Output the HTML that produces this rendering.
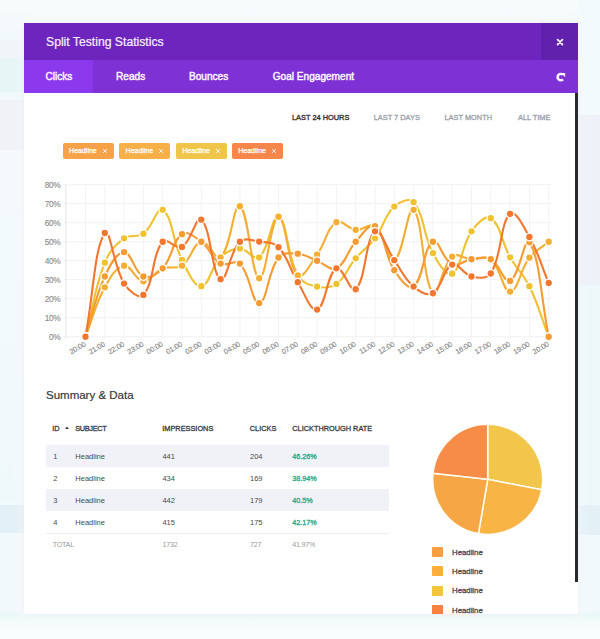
<!DOCTYPE html>
<html>
<head>
<meta charset="utf-8">
<style>
*{margin:0;padding:0;box-sizing:border-box;}
html,body{width:600px;height:639px;overflow:hidden;}
body{position:relative;background:#f4fafb;font-family:"Liberation Sans",sans-serif;}
.bg{position:absolute;}
.modal{position:absolute;left:24px;top:23px;width:554px;height:591px;background:#fff;overflow:hidden;box-shadow:0 0 8px rgba(120,160,180,0.12);}
.hdr{position:absolute;left:0;top:0;width:554px;height:37px;background:#6d25bd;}
.hdr .title{position:absolute;left:22px;top:11.8px;font-size:12.2px;line-height:14px;color:#f8efff;white-space:nowrap;-webkit-text-stroke:0.2px #f8efff;}
.hdr .close{position:absolute;left:517px;top:0;width:37px;height:37px;background:#6121ad;}
.tabs{position:absolute;left:0;top:37px;width:554px;height:32.5px;background:#7e31d4;}
.tab{position:absolute;top:0;height:32.5px;font-weight:normal;font-size:10.1px;line-height:34px;color:#fbf4ff;white-space:nowrap;-webkit-text-stroke:0.45px #fbf4ff;}
.tab.active{background:#8c39ee;}
.scroll{position:absolute;left:550.7px;top:69.5px;width:3.3px;height:489.5px;background:#262a2d;}
.filt{position:absolute;top:90.4px;font-weight:normal;font-size:7.4px;line-height:10px;color:#9aa0a6;white-space:nowrap;-webkit-text-stroke:0.3px #9aa0a6;}
.filt.on{color:#333;-webkit-text-stroke:0.35px #333;}
.tag{position:absolute;top:120px;height:16px;width:51px;border-radius:2px;color:#fff;font-weight:normal;font-size:7px;line-height:16.8px;white-space:nowrap;-webkit-text-stroke:0.25px #fff;}
.tag span{position:absolute;left:6.6px;top:0;}
.tag i{position:absolute;left:40px;top:0;font-style:normal;font-weight:normal;font-size:8.4px;}
svg text.yl{font-size:8.3px;letter-spacing:-0.25px;fill:#8a8a8a;stroke:#8a8a8a;stroke-width:0.12px;font-family:"Liberation Sans",sans-serif;}
svg text.xl{font-size:7.3px;letter-spacing:-0.15px;fill:#8a8a8a;stroke:#8a8a8a;stroke-width:0.15px;font-family:"Liberation Sans",sans-serif;}
.sum{position:absolute;left:22px;top:365px;font-size:11.5px;line-height:14px;color:#3a3a3a;white-space:nowrap;-webkit-text-stroke:0.2px #3a3a3a;}
.th{position:absolute;top:400.8px;font-weight:normal;font-size:7.35px;line-height:10px;color:#3a3a3a;white-space:nowrap;-webkit-text-stroke:0.3px #3a3a3a;}
.row{position:absolute;left:22px;width:343px;height:22px;}
.row.alt{background:#f0f2f7;}
.td{position:absolute;font-size:7.5px;line-height:11px;color:#4a4a4a;white-space:nowrap;}
.pct{font-weight:normal;color:#2eae8c;font-size:7.2px;-webkit-text-stroke:0.35px #2eae8c;}
.tot{color:#9a9a9a;font-size:7.1px;letter-spacing:-0.2px;}
.leg{position:absolute;left:408px;width:11px;height:10px;border-radius:1px;}
.legt{position:absolute;left:428px;font-weight:normal;font-size:7.8px;line-height:12.4px;color:#4a4a4a;white-space:nowrap;-webkit-text-stroke:0.3px #4a4a4a;}
</style>
</head>
<body>
<!-- blurred background page -->
<div class="bg" style="left:0;top:0;width:600px;height:639px;background:#f2f9fa;"></div>
<div class="bg" style="left:0;top:0;width:600px;height:40px;background:linear-gradient(180deg,#f7fbfc,#f2f9fb);"></div>
<div class="bg" style="left:0;top:40px;width:24px;height:18px;background:#f0f5f7;"></div>
<div class="bg" style="left:0;top:58px;width:24px;height:34px;background:#e7f5f5;"></div>
<div class="bg" style="left:0;top:100px;width:24px;height:50px;background:#f0f2f7;"></div>
<div class="bg" style="left:0;top:150px;width:24px;height:350px;background:linear-gradient(180deg,#f4fafb,#f0f9fa);"></div>
<div class="bg" style="left:0;top:505px;width:24px;height:28px;background:#e2f0f7;"></div>
<div class="bg" style="left:578px;top:0;width:22px;height:115px;background:#f3fafb;"></div>
<div class="bg" style="left:578px;top:115px;width:22px;height:170px;background:#eef1f7;"></div>
<div class="bg" style="left:578px;top:285px;width:22px;height:220px;background:#eef8fa;"></div>
<div class="bg" style="left:578px;top:505px;width:22px;height:30px;background:#e3f1f7;"></div>
<div class="bg" style="left:0;top:613px;width:600px;height:26px;background:linear-gradient(180deg,#e8f6f7 0%,#f4fbfb 35%,#fafdfd 100%);"></div>
<div class="bg" style="left:19px;top:18px;width:564px;height:600px;background:rgba(255,255,255,0.45);filter:blur(3px);"></div>

<div class="modal">
  <div class="hdr">
    <div class="title">Split Testing Statistics</div>
    <div class="close">
      <svg width="37" height="37" viewBox="0 0 37 37" style="position:absolute;left:0;top:0">
        <path d="M16.6 16.7 L21.4 21.5 M21.4 16.7 L16.6 21.5" stroke="#fbf2ff" stroke-width="1.8" stroke-linecap="round"/>
      </svg>
    </div>
  </div>
  <div class="tabs">
    <div class="tab active" style="left:0;width:69px;padding-left:21.5px;">Clicks</div>
    <div class="tab" style="left:92px;">Reads</div>
    <div class="tab" style="left:165px;">Bounces</div>
    <div class="tab" style="left:248.7px;">Goal Engagement</div>
    <svg width="14" height="14" viewBox="0 0 14 14" style="position:absolute;left:529.5px;top:9.5px">
      <path d="M8.9 4.8 A3.15 3.15 0 1 0 9.0 9.3" fill="none" stroke="#fbf4ff" stroke-width="2.5"/>
      <path d="M7.0 3.0 L11.2 3.0 L11.2 7.2 Z" fill="#fbf4ff"/>
    </svg>
  </div>
  <div class="scroll"></div>

  <div class="filt on" style="left:268px;">LAST 24 HOURS</div>
  <div class="filt" style="left:349.7px;">LAST 7 DAYS</div>
  <div class="filt" style="left:420.5px;">LAST MONTH</div>
  <div class="filt" style="left:494px;">ALL TIME</div>

  <div class="tag" style="left:38.5px;background:#f7a247;"><span>Headline</span><svg width="6" height="6" viewBox="0 0 6 6" style="position:absolute;left:39px;top:4.7px"><path d="M1 1 L5 5 M5 1 L1 5" stroke="#fff" stroke-width="0.9" opacity="0.9"/></svg></div>
  <div class="tag" style="left:95px;background:#f7b048;"><span>Headline</span><svg width="6" height="6" viewBox="0 0 6 6" style="position:absolute;left:39px;top:4.7px"><path d="M1 1 L5 5 M5 1 L1 5" stroke="#fff" stroke-width="0.9" opacity="0.9"/></svg></div>
  <div class="tag" style="left:151.7px;background:#efc54a;"><span>Headline</span><svg width="6" height="6" viewBox="0 0 6 6" style="position:absolute;left:39px;top:4.7px"><path d="M1 1 L5 5 M5 1 L1 5" stroke="#fff" stroke-width="0.9" opacity="0.9"/></svg></div>
  <div class="tag" style="left:207.7px;background:#f6864a;"><span>Headline</span><svg width="6" height="6" viewBox="0 0 6 6" style="position:absolute;left:39px;top:4.7px"><path d="M1 1 L5 5 M5 1 L1 5" stroke="#fff" stroke-width="0.9" opacity="0.9"/></svg></div>

  <div class="sum">Summary &amp; Data</div>
  <div class="th" style="left:28.3px;">ID</div>
  <svg width="6" height="6" viewBox="0 0 6 6" style="position:absolute;left:40px;top:401.6px"><path d="M1.2 4.1 L3 1.6 L4.8 4.1 Z" fill="#333"/></svg>
  <div class="th" style="left:51.3px;letter-spacing:-0.35px;">SUBJECT</div>
  <div class="th" style="left:138.3px;">IMPRESSIONS</div>
  <div class="th" style="left:225.8px;">CLICKS</div>
  <div class="th" style="left:268.3px;">CLICKTHROUGH RATE</div>

  <div class="row alt" style="top:421.8px;"></div>
  <div class="row alt" style="top:465.8px;"></div>
  <div style="position:absolute;left:22px;top:509.8px;width:343px;height:1px;background:#eceef2;"></div>

  <div class="td" style="left:29.2px;top:428px;">1</div>
  <div class="td" style="left:51.3px;top:428px;">Headline</div>
  <div class="td" style="left:138.4px;top:428px;">441</div>
  <div class="td" style="left:226px;top:428px;">204</div>
  <div class="td pct" style="left:268.3px;top:428px;">46.26%</div>

  <div class="td" style="left:29.2px;top:450px;">2</div>
  <div class="td" style="left:51.3px;top:450px;">Headline</div>
  <div class="td" style="left:138.4px;top:450px;">434</div>
  <div class="td" style="left:226px;top:450px;">169</div>
  <div class="td pct" style="left:268.3px;top:450px;">38.94%</div>

  <div class="td" style="left:29.2px;top:472px;">3</div>
  <div class="td" style="left:51.3px;top:472px;">Headline</div>
  <div class="td" style="left:138.4px;top:472px;">442</div>
  <div class="td" style="left:226px;top:472px;">179</div>
  <div class="td pct" style="left:268.3px;top:472px;">40.5%</div>

  <div class="td" style="left:29.2px;top:494px;">4</div>
  <div class="td" style="left:51.3px;top:494px;">Headline</div>
  <div class="td" style="left:138.4px;top:494px;">415</div>
  <div class="td" style="left:226px;top:494px;">175</div>
  <div class="td pct" style="left:268.3px;top:494px;">42.17%</div>

  <div class="td tot" style="left:28.7px;top:517px;">TOTAL</div>
  <div class="td tot" style="left:138.4px;top:517px;">1732</div>
  <div class="td tot" style="left:226px;top:517px;">727</div>
  <div class="td tot" style="left:268.3px;top:517px;">41.97%</div>

  <div class="leg" style="top:524.2px;background:#f89e3e;"></div><div class="legt" style="top:524px;">Headline</div>
  <div class="leg" style="top:543.2px;background:#f9ae3d;"></div><div class="legt" style="top:543px;">Headline</div>
  <div class="leg" style="top:562.5px;background:#f3c53c;"></div><div class="legt" style="top:562.3px;">Headline</div>
  <div class="leg" style="top:582px;background:#f7823f;"></div><div class="legt" style="top:581.6px;">Headline</div>
</div>

<svg width="600" height="639" viewBox="0 0 600 639" style="position:absolute;left:0;top:0;">
<line x1="63.8" y1="336.75" x2="551.5" y2="336.75" stroke="#f1f1f1" stroke-width="1"/>
<line x1="63.8" y1="317.75" x2="551.5" y2="317.75" stroke="#f1f1f1" stroke-width="1"/>
<line x1="63.8" y1="298.75" x2="551.5" y2="298.75" stroke="#f1f1f1" stroke-width="1"/>
<line x1="63.8" y1="279.75" x2="551.5" y2="279.75" stroke="#f1f1f1" stroke-width="1"/>
<line x1="63.8" y1="260.75" x2="551.5" y2="260.75" stroke="#f1f1f1" stroke-width="1"/>
<line x1="63.8" y1="241.75" x2="551.5" y2="241.75" stroke="#f1f1f1" stroke-width="1"/>
<line x1="63.8" y1="222.75" x2="551.5" y2="222.75" stroke="#f1f1f1" stroke-width="1"/>
<line x1="63.8" y1="203.75" x2="551.5" y2="203.75" stroke="#f1f1f1" stroke-width="1"/>
<line x1="63.8" y1="184.75" x2="551.5" y2="184.75" stroke="#f1f1f1" stroke-width="1"/>
<line x1="65.80" y1="184.75" x2="65.80" y2="338.75" stroke="#e6e6e6" stroke-width="1"/>
<line x1="85.50" y1="184.75" x2="85.50" y2="338.75" stroke="#f3f3f3" stroke-width="1"/>
<line x1="104.80" y1="184.75" x2="104.80" y2="338.75" stroke="#f3f3f3" stroke-width="1"/>
<line x1="124.10" y1="184.75" x2="124.10" y2="338.75" stroke="#f3f3f3" stroke-width="1"/>
<line x1="143.40" y1="184.75" x2="143.40" y2="338.75" stroke="#f3f3f3" stroke-width="1"/>
<line x1="162.70" y1="184.75" x2="162.70" y2="338.75" stroke="#f3f3f3" stroke-width="1"/>
<line x1="182.00" y1="184.75" x2="182.00" y2="338.75" stroke="#f3f3f3" stroke-width="1"/>
<line x1="201.30" y1="184.75" x2="201.30" y2="338.75" stroke="#f3f3f3" stroke-width="1"/>
<line x1="220.60" y1="184.75" x2="220.60" y2="338.75" stroke="#f3f3f3" stroke-width="1"/>
<line x1="239.90" y1="184.75" x2="239.90" y2="338.75" stroke="#f3f3f3" stroke-width="1"/>
<line x1="259.20" y1="184.75" x2="259.20" y2="338.75" stroke="#f3f3f3" stroke-width="1"/>
<line x1="278.50" y1="184.75" x2="278.50" y2="338.75" stroke="#f3f3f3" stroke-width="1"/>
<line x1="297.80" y1="184.75" x2="297.80" y2="338.75" stroke="#f3f3f3" stroke-width="1"/>
<line x1="317.10" y1="184.75" x2="317.10" y2="338.75" stroke="#f3f3f3" stroke-width="1"/>
<line x1="336.40" y1="184.75" x2="336.40" y2="338.75" stroke="#f3f3f3" stroke-width="1"/>
<line x1="355.70" y1="184.75" x2="355.70" y2="338.75" stroke="#f3f3f3" stroke-width="1"/>
<line x1="375.00" y1="184.75" x2="375.00" y2="338.75" stroke="#f3f3f3" stroke-width="1"/>
<line x1="394.30" y1="184.75" x2="394.30" y2="338.75" stroke="#f3f3f3" stroke-width="1"/>
<line x1="413.60" y1="184.75" x2="413.60" y2="338.75" stroke="#f3f3f3" stroke-width="1"/>
<line x1="432.90" y1="184.75" x2="432.90" y2="338.75" stroke="#f3f3f3" stroke-width="1"/>
<line x1="452.20" y1="184.75" x2="452.20" y2="338.75" stroke="#f3f3f3" stroke-width="1"/>
<line x1="471.50" y1="184.75" x2="471.50" y2="338.75" stroke="#f3f3f3" stroke-width="1"/>
<line x1="490.80" y1="184.75" x2="490.80" y2="338.75" stroke="#f3f3f3" stroke-width="1"/>
<line x1="510.10" y1="184.75" x2="510.10" y2="338.75" stroke="#f3f3f3" stroke-width="1"/>
<line x1="529.40" y1="184.75" x2="529.40" y2="338.75" stroke="#f3f3f3" stroke-width="1"/>
<line x1="548.70" y1="184.75" x2="548.70" y2="338.75" stroke="#f3f3f3" stroke-width="1"/>
<text x="60.5" y="339.65" text-anchor="end" class="yl">0%</text>
<text x="60.5" y="320.65" text-anchor="end" class="yl">10%</text>
<text x="60.5" y="301.65" text-anchor="end" class="yl">20%</text>
<text x="60.5" y="282.65" text-anchor="end" class="yl">30%</text>
<text x="60.5" y="263.65" text-anchor="end" class="yl">40%</text>
<text x="60.5" y="244.65" text-anchor="end" class="yl">50%</text>
<text x="60.5" y="225.65" text-anchor="end" class="yl">60%</text>
<text x="60.5" y="206.65" text-anchor="end" class="yl">70%</text>
<text x="60.5" y="187.65" text-anchor="end" class="yl">80%</text>
<text transform="translate(86.30 345.7) rotate(-30)" text-anchor="end" class="xl">20:00</text>
<text transform="translate(105.60 345.7) rotate(-30)" text-anchor="end" class="xl">21:00</text>
<text transform="translate(124.90 345.7) rotate(-30)" text-anchor="end" class="xl">22:00</text>
<text transform="translate(144.20 345.7) rotate(-30)" text-anchor="end" class="xl">23:00</text>
<text transform="translate(163.50 345.7) rotate(-30)" text-anchor="end" class="xl">00:00</text>
<text transform="translate(182.80 345.7) rotate(-30)" text-anchor="end" class="xl">01:00</text>
<text transform="translate(202.10 345.7) rotate(-30)" text-anchor="end" class="xl">02:00</text>
<text transform="translate(221.40 345.7) rotate(-30)" text-anchor="end" class="xl">03:00</text>
<text transform="translate(240.70 345.7) rotate(-30)" text-anchor="end" class="xl">04:00</text>
<text transform="translate(260.00 345.7) rotate(-30)" text-anchor="end" class="xl">05:00</text>
<text transform="translate(279.30 345.7) rotate(-30)" text-anchor="end" class="xl">06:00</text>
<text transform="translate(298.60 345.7) rotate(-30)" text-anchor="end" class="xl">07:00</text>
<text transform="translate(317.90 345.7) rotate(-30)" text-anchor="end" class="xl">08:00</text>
<text transform="translate(337.20 345.7) rotate(-30)" text-anchor="end" class="xl">09:00</text>
<text transform="translate(356.50 345.7) rotate(-30)" text-anchor="end" class="xl">10:00</text>
<text transform="translate(375.80 345.7) rotate(-30)" text-anchor="end" class="xl">11:00</text>
<text transform="translate(395.10 345.7) rotate(-30)" text-anchor="end" class="xl">12:00</text>
<text transform="translate(414.40 345.7) rotate(-30)" text-anchor="end" class="xl">13:00</text>
<text transform="translate(433.70 345.7) rotate(-30)" text-anchor="end" class="xl">14:00</text>
<text transform="translate(453.00 345.7) rotate(-30)" text-anchor="end" class="xl">15:00</text>
<text transform="translate(472.30 345.7) rotate(-30)" text-anchor="end" class="xl">16:00</text>
<text transform="translate(491.60 345.7) rotate(-30)" text-anchor="end" class="xl">17:00</text>
<text transform="translate(510.90 345.7) rotate(-30)" text-anchor="end" class="xl">18:00</text>
<text transform="translate(530.20 345.7) rotate(-30)" text-anchor="end" class="xl">19:00</text>
<text transform="translate(549.50 345.7) rotate(-30)" text-anchor="end" class="xl">20:00</text>
<path d="M85.50 336.75 C93.22 307.11 93.81 290.66 104.80 262.65 C109.25 251.29 114.68 245.38 124.10 238.33 C130.12 233.83 137.35 238.24 143.40 233.77 C152.79 226.84 157.08 206.01 162.70 209.83 C172.52 216.50 172.38 240.96 182.00 259.99 C187.82 271.52 193.83 286.72 201.30 286.21 C209.27 285.66 211.01 266.68 220.60 257.33 C226.45 251.63 232.19 248.55 239.90 248.59 C247.63 248.63 254.26 261.61 259.20 257.52 C269.70 248.84 271.98 213.65 278.50 216.67 C287.42 220.80 286.46 254.83 297.80 275.38 C301.90 282.80 308.86 284.76 317.10 286.59 C324.30 288.18 330.57 288.21 336.40 283.93 C346.01 276.88 347.42 268.06 355.70 258.28 C362.86 249.82 368.40 247.17 375.00 238.33 C383.84 226.50 384.23 216.02 394.30 206.60 C399.67 201.58 409.48 197.27 413.60 202.23 C424.92 215.89 422.72 234.32 432.90 253.15 C438.16 262.89 446.38 276.96 452.20 273.67 C461.82 268.22 461.21 246.08 471.50 231.30 C476.65 223.89 485.42 214.56 490.80 218.19 C500.86 224.97 501.50 242.18 510.10 257.33 C516.94 269.39 523.36 273.79 529.40 286.21 C538.80 305.56 540.98 316.53 548.70 336.75" fill="none" stroke="#f0c131" stroke-width="2.1"/>
<path d="M85.50 336.75 C93.22 316.99 94.82 305.72 104.80 287.35 C110.26 277.30 115.78 267.00 124.10 265.69 C131.22 264.57 135.43 280.72 143.40 281.27 C150.87 281.78 154.30 271.74 162.70 268.35 C169.74 265.51 176.01 269.82 182.00 265.69 C191.45 259.18 192.75 243.60 201.30 241.75 C208.19 240.26 215.78 261.77 220.60 257.33 C231.22 247.56 233.37 202.68 239.90 206.22 C248.81 211.04 250.92 275.99 259.20 278.23 C266.36 280.17 270.61 217.25 278.50 216.67 C286.05 216.11 287.21 264.96 297.80 275.38 C302.65 280.16 310.49 263.78 317.10 254.67 C325.93 242.50 326.43 228.61 336.40 222.18 C341.87 218.65 347.77 228.96 355.70 229.78 C363.21 230.56 369.84 222.11 375.00 226.17 C385.28 234.27 387.81 262.93 394.30 260.18 C403.25 256.39 407.63 204.72 413.60 209.83 C423.07 217.94 422.50 280.64 432.90 293.24 C437.94 299.34 441.70 265.82 452.20 256.57 C457.14 252.22 463.74 258.70 471.50 259.23 C479.18 259.76 485.57 254.85 490.80 259.23 C501.01 267.77 502.51 291.83 510.10 291.53 C517.95 291.22 520.00 269.83 529.40 257.71 C535.44 249.92 540.98 248.13 548.70 241.75" fill="none" stroke="#f5ae33" stroke-width="2.1"/>
<path d="M85.50 336.75 C93.22 312.66 94.44 299.20 104.80 276.52 C109.88 265.38 116.38 252.20 124.10 252.20 C131.82 252.20 134.18 272.66 143.40 276.52 C149.62 279.12 157.33 274.25 162.70 268.35 C172.77 257.30 171.90 241.11 182.00 234.15 C187.34 230.47 194.88 236.85 201.30 241.75 C210.32 248.63 211.31 258.34 220.60 263.60 C226.75 267.08 235.19 258.78 239.90 263.60 C250.63 274.59 251.94 304.26 259.20 303.12 C267.38 301.83 267.45 271.66 278.50 257.52 C282.89 251.90 290.25 253.09 297.80 253.72 C305.69 254.38 309.42 257.84 317.10 260.75 C324.86 263.69 330.43 271.29 336.40 268.35 C345.87 263.69 346.90 251.37 355.70 241.75 C362.34 234.49 369.75 222.29 375.00 226.17 C385.19 233.69 384.18 254.41 394.30 270.25 C399.62 278.58 408.33 290.48 413.60 286.59 C423.77 279.08 423.32 247.22 432.90 241.75 C438.76 238.40 442.96 260.36 452.20 264.55 C458.40 267.36 463.64 260.31 471.50 259.23 C479.08 258.19 484.63 255.77 490.80 259.23 C500.07 264.43 503.89 283.61 510.10 280.89 C519.33 276.85 524.63 235.41 529.40 242.32 C540.07 257.76 540.98 298.98 548.70 336.75" fill="none" stroke="#f49b32" stroke-width="2.1"/>
<path d="M85.50 336.75 C93.22 295.25 94.59 247.08 104.80 233.01 C110.03 225.80 113.18 266.03 124.10 283.55 C128.62 290.81 139.02 299.69 143.40 294.95 C154.46 282.97 151.29 255.96 162.70 241.75 C166.73 236.73 176.21 250.18 182.00 246.88 C191.65 241.37 195.93 215.22 201.30 219.71 C211.37 228.14 211.37 273.91 220.60 279.18 C226.81 282.73 229.31 252.07 239.90 241.75 C244.75 237.02 251.64 240.48 259.20 241.56 C267.08 242.69 273.33 241.81 278.50 247.26 C288.77 258.07 289.40 268.66 297.80 282.22 C304.84 293.59 310.56 311.93 317.10 309.58 C326.00 306.38 326.90 273.35 336.40 268.35 C342.34 265.22 350.79 293.96 355.70 289.25 C366.23 279.14 365.16 238.71 375.00 231.30 C380.60 227.08 386.35 248.79 394.30 260.18 C401.79 270.91 404.09 278.45 413.60 286.59 C419.53 291.67 427.17 296.51 432.90 293.24 C442.61 287.70 442.88 268.59 452.20 264.55 C458.32 261.90 463.20 274.60 471.50 276.52 C478.64 278.17 487.13 279.44 490.80 273.48 C502.57 254.36 499.67 223.67 510.10 213.82 C515.11 209.08 523.58 226.57 529.40 237.00 C539.02 254.24 540.98 264.59 548.70 282.98" fill="none" stroke="#f2762e" stroke-width="2.1"/>
<circle cx="85.50" cy="336.75" r="3.8" fill="#f0c131" stroke="#fff" stroke-width="1.3"/>
<circle cx="104.80" cy="262.65" r="3.8" fill="#f0c131" stroke="#fff" stroke-width="1.3"/>
<circle cx="124.10" cy="238.33" r="3.8" fill="#f0c131" stroke="#fff" stroke-width="1.3"/>
<circle cx="143.40" cy="233.77" r="3.8" fill="#f0c131" stroke="#fff" stroke-width="1.3"/>
<circle cx="162.70" cy="209.83" r="3.8" fill="#f0c131" stroke="#fff" stroke-width="1.3"/>
<circle cx="182.00" cy="259.99" r="3.8" fill="#f0c131" stroke="#fff" stroke-width="1.3"/>
<circle cx="201.30" cy="286.21" r="3.8" fill="#f0c131" stroke="#fff" stroke-width="1.3"/>
<circle cx="220.60" cy="257.33" r="3.8" fill="#f0c131" stroke="#fff" stroke-width="1.3"/>
<circle cx="239.90" cy="248.59" r="3.8" fill="#f0c131" stroke="#fff" stroke-width="1.3"/>
<circle cx="259.20" cy="257.52" r="3.8" fill="#f0c131" stroke="#fff" stroke-width="1.3"/>
<circle cx="278.50" cy="216.67" r="3.8" fill="#f0c131" stroke="#fff" stroke-width="1.3"/>
<circle cx="297.80" cy="275.38" r="3.8" fill="#f0c131" stroke="#fff" stroke-width="1.3"/>
<circle cx="317.10" cy="286.59" r="3.8" fill="#f0c131" stroke="#fff" stroke-width="1.3"/>
<circle cx="336.40" cy="283.93" r="3.8" fill="#f0c131" stroke="#fff" stroke-width="1.3"/>
<circle cx="355.70" cy="258.28" r="3.8" fill="#f0c131" stroke="#fff" stroke-width="1.3"/>
<circle cx="375.00" cy="238.33" r="3.8" fill="#f0c131" stroke="#fff" stroke-width="1.3"/>
<circle cx="394.30" cy="206.60" r="3.8" fill="#f0c131" stroke="#fff" stroke-width="1.3"/>
<circle cx="413.60" cy="202.23" r="3.8" fill="#f0c131" stroke="#fff" stroke-width="1.3"/>
<circle cx="432.90" cy="253.15" r="3.8" fill="#f0c131" stroke="#fff" stroke-width="1.3"/>
<circle cx="452.20" cy="273.67" r="3.8" fill="#f0c131" stroke="#fff" stroke-width="1.3"/>
<circle cx="471.50" cy="231.30" r="3.8" fill="#f0c131" stroke="#fff" stroke-width="1.3"/>
<circle cx="490.80" cy="218.19" r="3.8" fill="#f0c131" stroke="#fff" stroke-width="1.3"/>
<circle cx="510.10" cy="257.33" r="3.8" fill="#f0c131" stroke="#fff" stroke-width="1.3"/>
<circle cx="529.40" cy="286.21" r="3.8" fill="#f0c131" stroke="#fff" stroke-width="1.3"/>
<circle cx="548.70" cy="336.75" r="3.8" fill="#f0c131" stroke="#fff" stroke-width="1.3"/>
<circle cx="85.50" cy="336.75" r="3.8" fill="#f5ae33" stroke="#fff" stroke-width="1.3"/>
<circle cx="104.80" cy="287.35" r="3.8" fill="#f5ae33" stroke="#fff" stroke-width="1.3"/>
<circle cx="124.10" cy="265.69" r="3.8" fill="#f5ae33" stroke="#fff" stroke-width="1.3"/>
<circle cx="143.40" cy="281.27" r="3.8" fill="#f5ae33" stroke="#fff" stroke-width="1.3"/>
<circle cx="162.70" cy="268.35" r="3.8" fill="#f5ae33" stroke="#fff" stroke-width="1.3"/>
<circle cx="182.00" cy="265.69" r="3.8" fill="#f5ae33" stroke="#fff" stroke-width="1.3"/>
<circle cx="201.30" cy="241.75" r="3.8" fill="#f5ae33" stroke="#fff" stroke-width="1.3"/>
<circle cx="220.60" cy="257.33" r="3.8" fill="#f5ae33" stroke="#fff" stroke-width="1.3"/>
<circle cx="239.90" cy="206.22" r="3.8" fill="#f5ae33" stroke="#fff" stroke-width="1.3"/>
<circle cx="259.20" cy="278.23" r="3.8" fill="#f5ae33" stroke="#fff" stroke-width="1.3"/>
<circle cx="278.50" cy="216.67" r="3.8" fill="#f5ae33" stroke="#fff" stroke-width="1.3"/>
<circle cx="297.80" cy="275.38" r="3.8" fill="#f5ae33" stroke="#fff" stroke-width="1.3"/>
<circle cx="317.10" cy="254.67" r="3.8" fill="#f5ae33" stroke="#fff" stroke-width="1.3"/>
<circle cx="336.40" cy="222.18" r="3.8" fill="#f5ae33" stroke="#fff" stroke-width="1.3"/>
<circle cx="355.70" cy="229.78" r="3.8" fill="#f5ae33" stroke="#fff" stroke-width="1.3"/>
<circle cx="375.00" cy="226.17" r="3.8" fill="#f5ae33" stroke="#fff" stroke-width="1.3"/>
<circle cx="394.30" cy="260.18" r="3.8" fill="#f5ae33" stroke="#fff" stroke-width="1.3"/>
<circle cx="413.60" cy="209.83" r="3.8" fill="#f5ae33" stroke="#fff" stroke-width="1.3"/>
<circle cx="432.90" cy="293.24" r="3.8" fill="#f5ae33" stroke="#fff" stroke-width="1.3"/>
<circle cx="452.20" cy="256.57" r="3.8" fill="#f5ae33" stroke="#fff" stroke-width="1.3"/>
<circle cx="471.50" cy="259.23" r="3.8" fill="#f5ae33" stroke="#fff" stroke-width="1.3"/>
<circle cx="490.80" cy="259.23" r="3.8" fill="#f5ae33" stroke="#fff" stroke-width="1.3"/>
<circle cx="510.10" cy="291.53" r="3.8" fill="#f5ae33" stroke="#fff" stroke-width="1.3"/>
<circle cx="529.40" cy="257.71" r="3.8" fill="#f5ae33" stroke="#fff" stroke-width="1.3"/>
<circle cx="548.70" cy="241.75" r="3.8" fill="#f5ae33" stroke="#fff" stroke-width="1.3"/>
<circle cx="85.50" cy="336.75" r="3.8" fill="#f49b32" stroke="#fff" stroke-width="1.3"/>
<circle cx="104.80" cy="276.52" r="3.8" fill="#f49b32" stroke="#fff" stroke-width="1.3"/>
<circle cx="124.10" cy="252.20" r="3.8" fill="#f49b32" stroke="#fff" stroke-width="1.3"/>
<circle cx="143.40" cy="276.52" r="3.8" fill="#f49b32" stroke="#fff" stroke-width="1.3"/>
<circle cx="162.70" cy="268.35" r="3.8" fill="#f49b32" stroke="#fff" stroke-width="1.3"/>
<circle cx="182.00" cy="234.15" r="3.8" fill="#f49b32" stroke="#fff" stroke-width="1.3"/>
<circle cx="201.30" cy="241.75" r="3.8" fill="#f49b32" stroke="#fff" stroke-width="1.3"/>
<circle cx="220.60" cy="263.60" r="3.8" fill="#f49b32" stroke="#fff" stroke-width="1.3"/>
<circle cx="239.90" cy="263.60" r="3.8" fill="#f49b32" stroke="#fff" stroke-width="1.3"/>
<circle cx="259.20" cy="303.12" r="3.8" fill="#f49b32" stroke="#fff" stroke-width="1.3"/>
<circle cx="278.50" cy="257.52" r="3.8" fill="#f49b32" stroke="#fff" stroke-width="1.3"/>
<circle cx="297.80" cy="253.72" r="3.8" fill="#f49b32" stroke="#fff" stroke-width="1.3"/>
<circle cx="317.10" cy="260.75" r="3.8" fill="#f49b32" stroke="#fff" stroke-width="1.3"/>
<circle cx="336.40" cy="268.35" r="3.8" fill="#f49b32" stroke="#fff" stroke-width="1.3"/>
<circle cx="355.70" cy="241.75" r="3.8" fill="#f49b32" stroke="#fff" stroke-width="1.3"/>
<circle cx="375.00" cy="226.17" r="3.8" fill="#f49b32" stroke="#fff" stroke-width="1.3"/>
<circle cx="394.30" cy="270.25" r="3.8" fill="#f49b32" stroke="#fff" stroke-width="1.3"/>
<circle cx="413.60" cy="286.59" r="3.8" fill="#f49b32" stroke="#fff" stroke-width="1.3"/>
<circle cx="432.90" cy="241.75" r="3.8" fill="#f49b32" stroke="#fff" stroke-width="1.3"/>
<circle cx="452.20" cy="264.55" r="3.8" fill="#f49b32" stroke="#fff" stroke-width="1.3"/>
<circle cx="471.50" cy="259.23" r="3.8" fill="#f49b32" stroke="#fff" stroke-width="1.3"/>
<circle cx="490.80" cy="259.23" r="3.8" fill="#f49b32" stroke="#fff" stroke-width="1.3"/>
<circle cx="510.10" cy="280.89" r="3.8" fill="#f49b32" stroke="#fff" stroke-width="1.3"/>
<circle cx="529.40" cy="242.32" r="3.8" fill="#f49b32" stroke="#fff" stroke-width="1.3"/>
<circle cx="548.70" cy="336.75" r="3.8" fill="#f49b32" stroke="#fff" stroke-width="1.3"/>
<circle cx="85.50" cy="336.75" r="3.8" fill="#f2762e" stroke="#fff" stroke-width="1.3"/>
<circle cx="104.80" cy="233.01" r="3.8" fill="#f2762e" stroke="#fff" stroke-width="1.3"/>
<circle cx="124.10" cy="283.55" r="3.8" fill="#f2762e" stroke="#fff" stroke-width="1.3"/>
<circle cx="143.40" cy="294.95" r="3.8" fill="#f2762e" stroke="#fff" stroke-width="1.3"/>
<circle cx="162.70" cy="241.75" r="3.8" fill="#f2762e" stroke="#fff" stroke-width="1.3"/>
<circle cx="182.00" cy="246.88" r="3.8" fill="#f2762e" stroke="#fff" stroke-width="1.3"/>
<circle cx="201.30" cy="219.71" r="3.8" fill="#f2762e" stroke="#fff" stroke-width="1.3"/>
<circle cx="220.60" cy="279.18" r="3.8" fill="#f2762e" stroke="#fff" stroke-width="1.3"/>
<circle cx="239.90" cy="241.75" r="3.8" fill="#f2762e" stroke="#fff" stroke-width="1.3"/>
<circle cx="259.20" cy="241.56" r="3.8" fill="#f2762e" stroke="#fff" stroke-width="1.3"/>
<circle cx="278.50" cy="247.26" r="3.8" fill="#f2762e" stroke="#fff" stroke-width="1.3"/>
<circle cx="297.80" cy="282.22" r="3.8" fill="#f2762e" stroke="#fff" stroke-width="1.3"/>
<circle cx="317.10" cy="309.58" r="3.8" fill="#f2762e" stroke="#fff" stroke-width="1.3"/>
<circle cx="336.40" cy="268.35" r="3.8" fill="#f2762e" stroke="#fff" stroke-width="1.3"/>
<circle cx="355.70" cy="289.25" r="3.8" fill="#f2762e" stroke="#fff" stroke-width="1.3"/>
<circle cx="375.00" cy="231.30" r="3.8" fill="#f2762e" stroke="#fff" stroke-width="1.3"/>
<circle cx="394.30" cy="260.18" r="3.8" fill="#f2762e" stroke="#fff" stroke-width="1.3"/>
<circle cx="413.60" cy="286.59" r="3.8" fill="#f2762e" stroke="#fff" stroke-width="1.3"/>
<circle cx="432.90" cy="293.24" r="3.8" fill="#f2762e" stroke="#fff" stroke-width="1.3"/>
<circle cx="452.20" cy="264.55" r="3.8" fill="#f2762e" stroke="#fff" stroke-width="1.3"/>
<circle cx="471.50" cy="276.52" r="3.8" fill="#f2762e" stroke="#fff" stroke-width="1.3"/>
<circle cx="490.80" cy="273.48" r="3.8" fill="#f2762e" stroke="#fff" stroke-width="1.3"/>
<circle cx="510.10" cy="213.82" r="3.8" fill="#f2762e" stroke="#fff" stroke-width="1.3"/>
<circle cx="529.40" cy="237.00" r="3.8" fill="#f2762e" stroke="#fff" stroke-width="1.3"/>
<circle cx="548.70" cy="282.98" r="3.8" fill="#f2762e" stroke="#fff" stroke-width="1.3"/>
<path d="M487.70 479.30 L487.70 424.30 A55.00 55.00 0 0 1 541.69 489.81 Z" fill="#f1c64a" stroke="#fffdf5" stroke-width="1.5" stroke-linejoin="round"/>
<path d="M487.70 479.30 L541.69 489.81 A55.00 55.00 0 0 1 478.47 533.52 Z" fill="#f8b545" stroke="#fffdf5" stroke-width="1.5" stroke-linejoin="round"/>
<path d="M487.70 479.30 L478.47 533.52 A55.00 55.00 0 0 1 433.03 473.25 Z" fill="#f7a645" stroke="#fffdf5" stroke-width="1.5" stroke-linejoin="round"/>
<path d="M487.70 479.30 L433.03 473.25 A55.00 55.00 0 0 1 487.70 424.30 Z" fill="#f78b48" stroke="#fffdf5" stroke-width="1.5" stroke-linejoin="round"/>
</svg>
</body>
</html>
